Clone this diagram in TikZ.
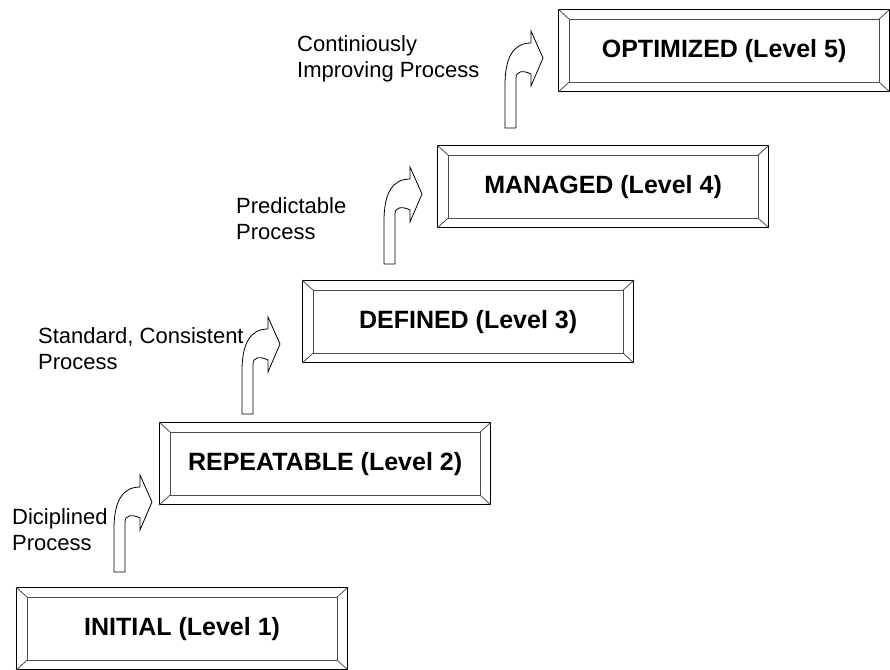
\documentclass[tikz,border=0pt]{standalone}
\usepackage{fontspec}
\setmainfont{Liberation Sans}
\begin{document}
\begin{tikzpicture}[x=1pt,y=-1pt,
  levelbox/.style={draw=black, line width=1.2pt, fill=white,
    minimum width=331pt, minimum height=82pt, inner sep=0pt,
    anchor=north west, font=\bfseries\fontsize{25}{28}\selectfont},
  bevel/.style={draw=black!70, line width=0.8pt},
  steplabel/.style={anchor=north west, inner sep=0pt, align=left,
    font=\fontsize{22}{26.5}\selectfont},
  stepbody/.style={draw=black, line width=0.8pt, fill=white, line join=miter},
  pics/stepup/.style={code={
    \path[stepbody] (0,0) -- (0,-43)
      .. controls (0,-70) and (8,-85) .. (26,-85)
      -- (26,-97) -- (38,-70) -- (26,-42) -- (26,-54)
      .. controls (18,-58) and (11,-57) .. (11,-50)
      -- (11,0) -- cycle;
  }}]
\useasboundingbox (0,0) rectangle (890,669);

% the five maturity levels
\node[levelbox] (l1) at (16,587) {INITIAL (Level 1)};
\node[levelbox] (l2) at (159,422) {REPEATABLE (Level 2)};
\node[levelbox] (l3) at (302,280) {DEFINED (Level 3)};
\node[levelbox] (l4) at (437,145) {MANAGED (Level 4)};
\node[levelbox] (l5) at (558,9) {OPTIMIZED (Level 5)};

% bevelled frame inside each box
\foreach \n in {l1,l2,l3,l4,l5} {
  \draw[bevel] ([shift={(11,10)}]\n.north west) rectangle ([shift={(-11,-10)}]\n.south east);
  \draw[bevel] (\n.north west) -- ([shift={(11,10)}]\n.north west);
  \draw[bevel] (\n.north east) -- ([shift={(-11,10)}]\n.north east);
  \draw[bevel] (\n.south west) -- ([shift={(11,-10)}]\n.south west);
  \draw[bevel] (\n.south east) -- ([shift={(-11,-10)}]\n.south east);
}

% step-up arrows between levels
\pic (s1) at (114,572) {stepup};
\pic (s2) at (242,414) {stepup};
\pic (s3) at (384,264) {stepup};
\pic (s4) at (505,128) {stepup};

% process descriptions
\node[steplabel] (t1) at (12,508) {Diciplined\\Process};
\node[steplabel] (t2) at (38,327) {Standard, Consistent\\Process};
\node[steplabel] (t3) at (236,197) {Predictable\\Process};
\node[steplabel] (t4) at (297,35) {Continiously\\Improving Process};
\end{tikzpicture}
\end{document}
